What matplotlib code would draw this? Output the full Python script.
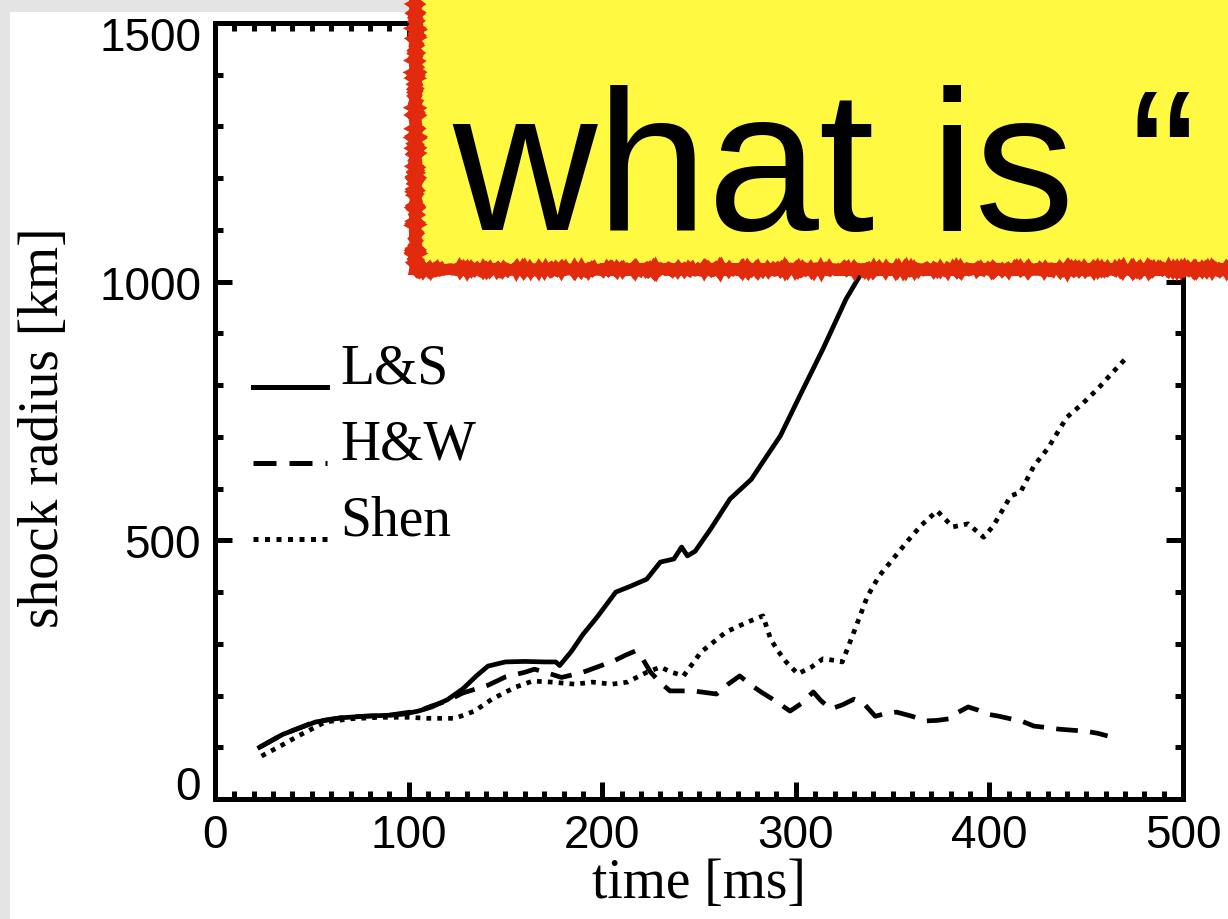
import matplotlib
matplotlib.use("Agg")
import matplotlib.pyplot as plt
from matplotlib.patches import Rectangle
from matplotlib.ticker import MultipleLocator
from matplotlib.transforms import ScaledTranslation

# shock radius vs time for three equations of state
t_ls = [23, 35, 52, 65, 77, 90, 97, 105, 112, 120, 128, 135, 141, 150, 160, 170, 176, 178, 184,
        190, 197, 207, 215, 223, 230, 237, 241, 244, 248, 256, 266, 277, 285, 292, 302, 314,
        326, 333, 345]
r_ls = [100, 125, 149, 157, 160, 162, 164, 170, 178, 192, 213, 238, 257, 265, 266, 265, 265, 258, 285,
        318, 350, 400, 412, 425, 458, 464, 487, 470, 479, 522, 580, 618, 663, 702, 779, 870,
        967, 1011, 1130]

t_hw = [23, 35, 52, 65, 77, 90, 97, 105, 112, 120, 128, 141, 150, 160, 165, 174, 179, 190, 198,
        206, 212, 217, 221, 225, 230, 235, 241, 247, 253, 259, 265, 271, 277, 282, 288, 297,
        303, 309, 313, 318, 324, 330, 335, 341, 346, 352, 360, 367, 373, 379, 384, 389, 394,
        399, 405, 411, 417, 423, 430, 436, 443, 450, 456, 461]
r_hw = [100, 125, 150, 157, 160, 162, 166, 170, 180, 190, 205, 220, 236, 245, 251, 241, 235, 245, 256,
        267, 278, 286, 270, 245, 225, 209, 209, 209, 206, 203, 222, 238, 220, 207, 193, 170,
        185, 207, 190, 174, 182, 193, 185, 160, 165, 168, 160, 151, 152, 155, 168, 178, 172,
        164, 160, 155, 150, 141, 138, 135, 133, 131, 127, 122]

t_sh = [24, 35, 43, 57, 70, 85, 100, 110, 124, 134, 143, 155, 164, 174, 186, 195, 205, 213, 223,
        230, 236, 242, 251, 258, 264, 275, 283, 287, 291, 295, 301, 308, 314, 320, 324, 330,
        337, 343, 353, 358, 365, 373, 381, 389, 397, 402, 411, 416, 423, 430, 440, 448, 456,
        462, 471]
r_sh = [83, 105, 122, 149, 155, 158, 158, 156, 156, 170, 193, 216, 228, 226, 222, 226, 222, 226, 245,
        255, 245, 238, 284, 305, 323, 342, 354, 309, 285, 265, 242, 255, 271, 268, 265, 323,
        392, 431, 477, 500, 530, 557, 526, 532, 506, 528, 586, 593, 644, 677, 738, 764, 793,
        818, 854]

names = ['L&S', 'H&W', 'Shen']
xticks = [0, 100, 200, 300, 400, 500]
yticks = [0, 500, 1000, 1500]

serif = 'Liberation Serif'
sans = 'Liberation Sans'

fig = plt.figure(figsize=(12.28, 9.2), dpi=100, facecolor='#e4e4e4')
fig.add_artist(Rectangle((10 / 1228, 0), 1, 1 - 13 / 920, transform=fig.transFigure,
                         facecolor='white', edgecolor='none', zorder=-1))

ax = fig.add_axes([0.1751, 0.1304, 0.7883, 0.8435])

styles = ['-', (0, (4.6, 2.6)), (0, (1, 1.3))]
ax.plot(t_ls, r_ls, color='black', lw=3.4, ls=styles[0])
ax.plot(t_hw, r_hw, color='black', lw=3.4, ls=styles[1])
ax.plot(t_sh, r_sh, color='black', lw=3.4, ls=styles[2])

# hand-made legend: short sample line with the name sitting on it
for i, (name, st) in enumerate(zip(names, styles)):
    yl = 0.531 - i * 0.098
    ax.plot([0.039, 0.1157], [yl, yl], transform=ax.transAxes, color='black',
            lw=3.6, ls=st)
    ax.text(0.129, yl + 0.006, name, transform=ax.transAxes, fontsize=40,
            family=serif, va='baseline', ha='left')

ax.set_xlim(0, 500)
ax.set_ylim(0, 1500)
ax.set_xticks(xticks)
ax.set_yticks(yticks)
ax.xaxis.set_minor_locator(MultipleLocator(10))
ax.yaxis.set_minor_locator(MultipleLocator(100))
ax.tick_params(which='both', direction='in', top=True, right=True, width=3.6)
ax.tick_params(which='major', length=12, labelsize=33, pad=10)
ax.tick_params(which='minor', length=6)
for lbl in ax.get_xticklabels() + ax.get_yticklabels():
    lbl.set_family(sans)
ylbls = ax.get_yticklabels()
ylbls[0].set_va('baseline')
ylbls[-1].set_transform(ylbls[-1].get_transform()
                        + ScaledTranslation(0, -10 / 100, fig.dpi_scale_trans))
for sp in ax.spines.values():
    sp.set_linewidth(3.6)

ax.set_xlabel('time [ms]', fontsize=40, family=serif, va='top')
ax.set_ylabel('shock radius [km]', fontsize=40, family=serif)
ax.xaxis.set_label_coords(0.5, -0.075)
ax.yaxis.set_label_coords(-0.150, 0.480)

# yellow caption box across the top right
box = Rectangle((415 / 1228, 1 - 270 / 920), 1, 1, transform=fig.transFigure,
                facecolor='#fff942', edgecolor='#e22a0c', lw=8, zorder=10)
box.set_sketch_params(scale=1.0, length=2, randomness=2)
fig.add_artist(box)
fig.text(452 / 1228, 1 - 230 / 920, 'what is \u201c', fontsize=144, family=sans,
         va='baseline', ha='left', zorder=11)

fig.savefig('out.png', dpi=100, facecolor=fig.get_facecolor())
